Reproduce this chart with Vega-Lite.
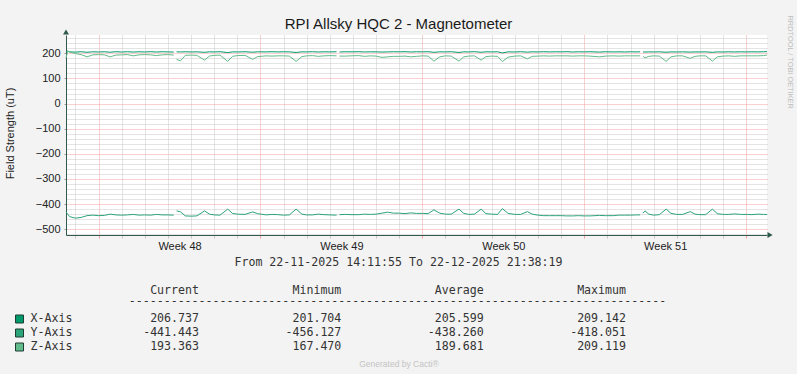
{
  "$schema": "https://vega.github.io/schema/vega-lite/v6.json",
  "width": 701,
  "height": 200,
  "autosize": {"type": "none"},
  "padding": {"left": 66, "top": 35, "right": 30, "bottom": 139},
  "background": "#f3f3f3",
  "config": {
    "view": {"fill": "#ffffff", "stroke": null},
    "font": "Liberation Sans",
    "axis": {"titleFontWeight": "normal"}
  },
  "datasets": {
    "series": [
      {"t":"2025-11-22T14:11:55Z","X-Axis":205.2,"Y-Axis":-431,"Z-Axis":181},
      {"t":"2025-11-22T16:00:00Z","X-Axis":209.1,"Y-Axis":-440,"Z-Axis":209.1},
      {"t":"2025-11-22T18:00:00Z","X-Axis":205.6,"Y-Axis":-450,"Z-Axis":205},
      {"t":"2025-11-23T00:00:00Z","X-Axis":205.0,"Y-Axis":-456,"Z-Axis":199},
      {"t":"2025-11-23T06:00:00Z","X-Axis":206.3,"Y-Axis":-453,"Z-Axis":195},
      {"t":"2025-11-23T12:00:00Z","X-Axis":204.2,"Y-Axis":-446,"Z-Axis":186},
      {"t":"2025-11-23T18:00:00Z","X-Axis":206.1,"Y-Axis":-444,"Z-Axis":194},
      {"t":"2025-11-24T00:00:00Z","X-Axis":205.3,"Y-Axis":-446,"Z-Axis":195},
      {"t":"2025-11-24T06:00:00Z","X-Axis":206.2,"Y-Axis":-445,"Z-Axis":194},
      {"t":"2025-11-24T12:00:00Z","X-Axis":204.5,"Y-Axis":-440,"Z-Axis":186},
      {"t":"2025-11-24T18:00:00Z","X-Axis":206.4,"Y-Axis":-443,"Z-Axis":193},
      {"t":"2025-11-25T00:00:00Z","X-Axis":205.1,"Y-Axis":-444,"Z-Axis":194},
      {"t":"2025-11-25T06:00:00Z","X-Axis":206.5,"Y-Axis":-443,"Z-Axis":195},
      {"t":"2025-11-25T12:00:00Z","X-Axis":205.0,"Y-Axis":-441,"Z-Axis":190},
      {"t":"2025-11-25T18:00:00Z","X-Axis":206.2,"Y-Axis":-444,"Z-Axis":194},
      {"t":"2025-11-26T00:00:00Z","X-Axis":205.4,"Y-Axis":-443,"Z-Axis":195},
      {"t":"2025-11-26T06:00:00Z","X-Axis":206.6,"Y-Axis":-444,"Z-Axis":194},
      {"t":"2025-11-26T12:00:00Z","X-Axis":205.2,"Y-Axis":-441,"Z-Axis":191},
      {"t":"2025-11-26T18:00:00Z","X-Axis":206.3,"Y-Axis":-443,"Z-Axis":194},
      {"t":"2025-11-27T00:00:00Z","X-Axis":205.6,"Y-Axis":-443,"Z-Axis":195},
      {"t":"2025-11-27T06:00:00Z","X-Axis":205.1,"Y-Axis":-444,"Z-Axis":193},
      {"t":"2025-11-27T07:30:00Z","X-Axis":null,"Y-Axis":null,"Z-Axis":null},
      {"t":"2025-11-27T09:00:00Z","X-Axis":206.0,"Y-Axis":-427,"Z-Axis":176},
      {"t":"2025-11-27T13:00:00Z","X-Axis":205.5,"Y-Axis":-431,"Z-Axis":170},
      {"t":"2025-11-27T18:00:00Z","X-Axis":206.2,"Y-Axis":-447,"Z-Axis":192},
      {"t":"2025-11-28T00:00:00Z","X-Axis":205.4,"Y-Axis":-448,"Z-Axis":193},
      {"t":"2025-11-28T06:00:00Z","X-Axis":206.0,"Y-Axis":-447,"Z-Axis":192},
      {"t":"2025-11-28T14:00:00Z","X-Axis":204.0,"Y-Axis":-427,"Z-Axis":173},
      {"t":"2025-11-28T19:00:00Z","X-Axis":206.1,"Y-Axis":-440,"Z-Axis":189},
      {"t":"2025-11-29T00:00:00Z","X-Axis":205.5,"Y-Axis":-443,"Z-Axis":192},
      {"t":"2025-11-29T06:00:00Z","X-Axis":206.4,"Y-Axis":-444,"Z-Axis":193},
      {"t":"2025-11-29T14:00:00Z","X-Axis":203.0,"Y-Axis":-420,"Z-Axis":168},
      {"t":"2025-11-29T19:00:00Z","X-Axis":205.8,"Y-Axis":-437,"Z-Axis":188},
      {"t":"2025-11-30T00:00:00Z","X-Axis":205.5,"Y-Axis":-440,"Z-Axis":191},
      {"t":"2025-11-30T08:00:00Z","X-Axis":206.3,"Y-Axis":-441,"Z-Axis":192},
      {"t":"2025-11-30T16:00:00Z","X-Axis":204.5,"Y-Axis":-431,"Z-Axis":176},
      {"t":"2025-11-30T21:00:00Z","X-Axis":206.0,"Y-Axis":-438,"Z-Axis":187},
      {"t":"2025-12-01T06:00:00Z","X-Axis":205.7,"Y-Axis":-443,"Z-Axis":190},
      {"t":"2025-12-01T12:00:00Z","X-Axis":206.4,"Y-Axis":-441,"Z-Axis":189},
      {"t":"2025-12-01T18:00:00Z","X-Axis":205.6,"Y-Axis":-442,"Z-Axis":190},
      {"t":"2025-12-02T00:00:00Z","X-Axis":206.2,"Y-Axis":-444,"Z-Axis":190},
      {"t":"2025-12-02T06:00:00Z","X-Axis":205.8,"Y-Axis":-443,"Z-Axis":189},
      {"t":"2025-12-02T13:00:00Z","X-Axis":203.5,"Y-Axis":-420,"Z-Axis":168},
      {"t":"2025-12-02T19:00:00Z","X-Axis":206.0,"Y-Axis":-440,"Z-Axis":187},
      {"t":"2025-12-03T00:00:00Z","X-Axis":205.6,"Y-Axis":-443,"Z-Axis":190},
      {"t":"2025-12-03T06:00:00Z","X-Axis":206.5,"Y-Axis":-443,"Z-Axis":191},
      {"t":"2025-12-03T12:00:00Z","X-Axis":205.3,"Y-Axis":-440,"Z-Axis":188},
      {"t":"2025-12-03T18:00:00Z","X-Axis":206.1,"Y-Axis":-442,"Z-Axis":190},
      {"t":"2025-12-04T00:00:00Z","X-Axis":205.7,"Y-Axis":-443,"Z-Axis":191},
      {"t":"2025-12-04T07:00:00Z","X-Axis":206.3,"Y-Axis":-444,"Z-Axis":190},
      {"t":"2025-12-04T08:30:00Z","X-Axis":null,"Y-Axis":null,"Z-Axis":null},
      {"t":"2025-12-04T10:00:00Z","X-Axis":205.4,"Y-Axis":-442,"Z-Axis":189},
      {"t":"2025-12-04T16:00:00Z","X-Axis":206.2,"Y-Axis":-441,"Z-Axis":189},
      {"t":"2025-12-04T22:00:00Z","X-Axis":205.9,"Y-Axis":-442,"Z-Axis":190},
      {"t":"2025-12-05T06:00:00Z","X-Axis":206.4,"Y-Axis":-442,"Z-Axis":191},
      {"t":"2025-12-05T12:00:00Z","X-Axis":205.5,"Y-Axis":-440,"Z-Axis":188},
      {"t":"2025-12-05T18:00:00Z","X-Axis":206.0,"Y-Axis":-441,"Z-Axis":190},
      {"t":"2025-12-06T00:00:00Z","X-Axis":205.8,"Y-Axis":-440,"Z-Axis":189},
      {"t":"2025-12-06T06:00:00Z","X-Axis":205.2,"Y-Axis":-436,"Z-Axis":184},
      {"t":"2025-12-06T12:00:00Z","X-Axis":205.6,"Y-Axis":-432,"Z-Axis":186},
      {"t":"2025-12-06T18:00:00Z","X-Axis":206.3,"Y-Axis":-436,"Z-Axis":188},
      {"t":"2025-12-07T00:00:00Z","X-Axis":205.9,"Y-Axis":-436,"Z-Axis":188},
      {"t":"2025-12-07T06:00:00Z","X-Axis":206.5,"Y-Axis":-438,"Z-Axis":189},
      {"t":"2025-12-07T12:00:00Z","X-Axis":205.4,"Y-Axis":-435,"Z-Axis":186},
      {"t":"2025-12-07T18:00:00Z","X-Axis":206.2,"Y-Axis":-437,"Z-Axis":188},
      {"t":"2025-12-08T00:00:00Z","X-Axis":205.8,"Y-Axis":-437,"Z-Axis":190},
      {"t":"2025-12-08T06:00:00Z","X-Axis":206.4,"Y-Axis":-438,"Z-Axis":189},
      {"t":"2025-12-08T12:00:00Z","X-Axis":204.0,"Y-Axis":-423,"Z-Axis":169},
      {"t":"2025-12-08T18:00:00Z","X-Axis":206.0,"Y-Axis":-436,"Z-Axis":186},
      {"t":"2025-12-09T00:00:00Z","X-Axis":205.7,"Y-Axis":-440,"Z-Axis":190},
      {"t":"2025-12-09T06:00:00Z","X-Axis":206.3,"Y-Axis":-440,"Z-Axis":189},
      {"t":"2025-12-09T14:00:00Z","X-Axis":203.5,"Y-Axis":-420,"Z-Axis":169},
      {"t":"2025-12-09T19:00:00Z","X-Axis":205.9,"Y-Axis":-437,"Z-Axis":186},
      {"t":"2025-12-10T00:00:00Z","X-Axis":205.5,"Y-Axis":-441,"Z-Axis":189},
      {"t":"2025-12-10T06:00:00Z","X-Axis":206.6,"Y-Axis":-440,"Z-Axis":190},
      {"t":"2025-12-10T13:00:00Z","X-Axis":204.2,"Y-Axis":-420,"Z-Axis":173},
      {"t":"2025-12-10T18:00:00Z","X-Axis":206.1,"Y-Axis":-438,"Z-Axis":187},
      {"t":"2025-12-11T00:00:00Z","X-Axis":205.6,"Y-Axis":-440,"Z-Axis":189},
      {"t":"2025-12-11T06:00:00Z","X-Axis":206.2,"Y-Axis":-441,"Z-Axis":188},
      {"t":"2025-12-11T11:00:00Z","X-Axis":201.7,"Y-Axis":-418,"Z-Axis":167.5},
      {"t":"2025-12-11T17:00:00Z","X-Axis":205.9,"Y-Axis":-437,"Z-Axis":185},
      {"t":"2025-12-12T00:00:00Z","X-Axis":205.4,"Y-Axis":-441,"Z-Axis":189},
      {"t":"2025-12-12T06:00:00Z","X-Axis":206.3,"Y-Axis":-441,"Z-Axis":190},
      {"t":"2025-12-12T13:00:00Z","X-Axis":204.8,"Y-Axis":-430,"Z-Axis":178},
      {"t":"2025-12-12T18:00:00Z","X-Axis":206.0,"Y-Axis":-440,"Z-Axis":188},
      {"t":"2025-12-13T00:00:00Z","X-Axis":205.5,"Y-Axis":-444,"Z-Axis":189},
      {"t":"2025-12-13T06:00:00Z","X-Axis":206.4,"Y-Axis":-446,"Z-Axis":190},
      {"t":"2025-12-13T12:00:00Z","X-Axis":205.6,"Y-Axis":-446,"Z-Axis":189},
      {"t":"2025-12-13T18:00:00Z","X-Axis":206.2,"Y-Axis":-446,"Z-Axis":190},
      {"t":"2025-12-14T00:00:00Z","X-Axis":205.8,"Y-Axis":-446,"Z-Axis":190},
      {"t":"2025-12-14T06:00:00Z","X-Axis":206.5,"Y-Axis":-447,"Z-Axis":190},
      {"t":"2025-12-14T12:00:00Z","X-Axis":205.3,"Y-Axis":-447,"Z-Axis":189},
      {"t":"2025-12-14T18:00:00Z","X-Axis":206.1,"Y-Axis":-446,"Z-Axis":190},
      {"t":"2025-12-15T00:00:00Z","X-Axis":205.7,"Y-Axis":-447,"Z-Axis":190},
      {"t":"2025-12-15T06:00:00Z","X-Axis":206.3,"Y-Axis":-447,"Z-Axis":189},
      {"t":"2025-12-15T16:00:00Z","X-Axis":205.0,"Y-Axis":-445,"Z-Axis":186},
      {"t":"2025-12-15T22:00:00Z","X-Axis":206.2,"Y-Axis":-446,"Z-Axis":189},
      {"t":"2025-12-16T06:00:00Z","X-Axis":205.6,"Y-Axis":-446,"Z-Axis":190},
      {"t":"2025-12-16T12:00:00Z","X-Axis":206.0,"Y-Axis":-444,"Z-Axis":189},
      {"t":"2025-12-16T18:00:00Z","X-Axis":205.4,"Y-Axis":-444,"Z-Axis":190},
      {"t":"2025-12-17T00:00:00Z","X-Axis":206.2,"Y-Axis":-444,"Z-Axis":190},
      {"t":"2025-12-17T06:00:00Z","X-Axis":205.7,"Y-Axis":-443,"Z-Axis":190},
      {"t":"2025-12-17T10:00:00Z","X-Axis":206.1,"Y-Axis":-443,"Z-Axis":190},
      {"t":"2025-12-17T11:30:00Z","X-Axis":null,"Y-Axis":null,"Z-Axis":null},
      {"t":"2025-12-17T13:00:00Z","X-Axis":205.6,"Y-Axis":-436,"Z-Axis":188},
      {"t":"2025-12-17T15:00:00Z","X-Axis":205.2,"Y-Axis":-427,"Z-Axis":182},
      {"t":"2025-12-17T19:00:00Z","X-Axis":205.8,"Y-Axis":-440,"Z-Axis":188},
      {"t":"2025-12-18T00:00:00Z","X-Axis":205.5,"Y-Axis":-444,"Z-Axis":190},
      {"t":"2025-12-18T06:00:00Z","X-Axis":205.9,"Y-Axis":-442,"Z-Axis":189},
      {"t":"2025-12-18T13:00:00Z","X-Axis":204.3,"Y-Axis":-420,"Z-Axis":168},
      {"t":"2025-12-18T18:00:00Z","X-Axis":205.7,"Y-Axis":-437,"Z-Axis":186},
      {"t":"2025-12-19T00:00:00Z","X-Axis":205.4,"Y-Axis":-441,"Z-Axis":190},
      {"t":"2025-12-19T06:00:00Z","X-Axis":205.8,"Y-Axis":-441,"Z-Axis":190},
      {"t":"2025-12-19T14:00:00Z","X-Axis":205.0,"Y-Axis":-430,"Z-Axis":180},
      {"t":"2025-12-19T19:00:00Z","X-Axis":205.6,"Y-Axis":-440,"Z-Axis":188},
      {"t":"2025-12-20T00:00:00Z","X-Axis":205.5,"Y-Axis":-442,"Z-Axis":190},
      {"t":"2025-12-20T06:00:00Z","X-Axis":205.9,"Y-Axis":-442,"Z-Axis":190},
      {"t":"2025-12-20T13:00:00Z","X-Axis":204.0,"Y-Axis":-420,"Z-Axis":169},
      {"t":"2025-12-20T18:00:00Z","X-Axis":205.7,"Y-Axis":-438,"Z-Axis":186},
      {"t":"2025-12-21T00:00:00Z","X-Axis":205.4,"Y-Axis":-441,"Z-Axis":189},
      {"t":"2025-12-21T06:00:00Z","X-Axis":205.9,"Y-Axis":-441,"Z-Axis":190},
      {"t":"2025-12-21T12:00:00Z","X-Axis":205.5,"Y-Axis":-439,"Z-Axis":188},
      {"t":"2025-12-21T18:00:00Z","X-Axis":206.0,"Y-Axis":-441,"Z-Axis":190},
      {"t":"2025-12-22T00:00:00Z","X-Axis":205.6,"Y-Axis":-441,"Z-Axis":190},
      {"t":"2025-12-22T06:00:00Z","X-Axis":206.1,"Y-Axis":-442,"Z-Axis":190},
      {"t":"2025-12-22T12:00:00Z","X-Axis":205.7,"Y-Axis":-440,"Z-Axis":190},
      {"t":"2025-12-22T18:00:00Z","X-Axis":206.3,"Y-Axis":-441,"Z-Axis":191},
      {"t":"2025-12-22T21:38:19Z","X-Axis":206.737,"Y-Axis":-441.443,"Z-Axis":193.363}
    ],
    "stats": [
      {"row":"header","col":"Current","text":"Current"},
      {"row":"header","col":"Minimum","text":"Minimum"},
      {"row":"header","col":"Average","text":"Average"},
      {"row":"header","col":"Maximum","text":"Maximum"},
      {"row":"X-Axis","col":"Current","text":"206.737"},
      {"row":"X-Axis","col":"Minimum","text":"201.704"},
      {"row":"X-Axis","col":"Average","text":"205.599"},
      {"row":"X-Axis","col":"Maximum","text":"209.142"},
      {"row":"Y-Axis","col":"Current","text":"-441.443"},
      {"row":"Y-Axis","col":"Minimum","text":"-456.127"},
      {"row":"Y-Axis","col":"Average","text":"-438.260"},
      {"row":"Y-Axis","col":"Maximum","text":"-418.051"},
      {"row":"Z-Axis","col":"Current","text":"193.363"},
      {"row":"Z-Axis","col":"Minimum","text":"167.470"},
      {"row":"Z-Axis","col":"Average","text":"189.681"},
      {"row":"Z-Axis","col":"Maximum","text":"209.119"}
    ],
    "legend": [
      {"row":"X-Axis"},
      {"row":"Y-Axis"},
      {"row":"Z-Axis"}
    ]
  },
  "layer": [
    {
      "data": {"name": "series"},
      "transform": [{"fold": ["X-Axis", "Y-Axis", "Z-Axis"], "as": ["series", "v"]}],
      "layer": [
        {
          "mark": {"type": "line", "strokeOpacity": 0},
          "encoding": {
            "x": {"field": "t", "type": "temporal",
              "scale": {"type": "utc", "domain": [{"year":2025,"month":11,"date":22,"hours":14,"minutes":11,"seconds":55,"utc":true},{"year":2025,"month":12,"date":22,"hours":21,"minutes":38,"seconds":19,"utc":true}]},
              "axis": {"orient": "bottom",
                "values": [{"year":2025,"month":11,"date":23,"utc":true},{"year":2025,"month":11,"date":25,"utc":true},{"year":2025,"month":11,"date":26,"utc":true},{"year":2025,"month":11,"date":27,"utc":true},{"year":2025,"month":11,"date":28,"utc":true},{"year":2025,"month":11,"date":29,"utc":true},{"year":2025,"month":11,"date":30,"utc":true},{"year":2025,"month":12,"date":2,"utc":true},{"year":2025,"month":12,"date":3,"utc":true},{"year":2025,"month":12,"date":4,"utc":true},{"year":2025,"month":12,"date":5,"utc":true},{"year":2025,"month":12,"date":6,"utc":true},{"year":2025,"month":12,"date":7,"utc":true},{"year":2025,"month":12,"date":9,"utc":true},{"year":2025,"month":12,"date":10,"utc":true},{"year":2025,"month":12,"date":11,"utc":true},{"year":2025,"month":12,"date":12,"utc":true},{"year":2025,"month":12,"date":13,"utc":true},{"year":2025,"month":12,"date":14,"utc":true},{"year":2025,"month":12,"date":16,"utc":true},{"year":2025,"month":12,"date":17,"utc":true},{"year":2025,"month":12,"date":18,"utc":true},{"year":2025,"month":12,"date":19,"utc":true},{"year":2025,"month":12,"date":20,"utc":true},{"year":2025,"month":12,"date":21,"utc":true}],
                "grid": true, "gridColor": "#c8c8c8", "gridDash": [1, 1], "gridWidth": 1,
                "labels": false, "domain": false, "ticks": true, "tickSize": 3, "tickColor": "#c8c8c8",
                "title": "Generated by Cacti®", "titleX": 332.5, "titleY": 128, "titleAlign": "center", "titleBaseline": "middle",
                "titleFont": "Liberation Sans", "titleFontSize": 8.5, "titleFontWeight": "normal", "titleColor": "#c4c4c4"}},
            "y": {"field": "v", "type": "quantitative",
              "scale": {"domain": [-523, 273], "nice": false, "zero": false},
              "axis": {"orient": "right",
                "values": [-520,-480,-460,-440,-420,-380,-360,-340,-320,-280,-260,-240,-220,-180,-160,-140,-120,-80,-60,-40,-20,20,40,60,80,120,140,160,180,220,240,260],
                "grid": true, "gridColor": "#c8c8c8", "gridDash": [1, 1], "gridWidth": 1,
                "labels": false, "domain": false, "ticks": false, "tickSize": 0,
                "title": "RRDTOOL / TOBI OETIKER", "titleX": 22, "titleY": -20, "titleAngle": 90, "titleAlign": "left", "titleBaseline": "middle",
                "titleLimit": 400,
                "titleFont": "Liberation Sans", "titleFontSize": 7.4, "titleFontWeight": "normal", "titleColor": "#bdbdbd"}}
          }
        },
        {
          "mark": {"type": "line", "strokeOpacity": 0},
          "encoding": {
            "x": {"field": "t", "type": "temporal",
              "scale": {"type": "utc", "domain": [{"year":2025,"month":11,"date":22,"hours":14,"minutes":11,"seconds":55,"utc":true},{"year":2025,"month":12,"date":22,"hours":21,"minutes":38,"seconds":19,"utc":true}]},
              "axis": {"orient": "bottom",
                "values": [{"year":2025,"month":11,"date":24,"utc":true},{"year":2025,"month":12,"date":1,"utc":true},{"year":2025,"month":12,"date":8,"utc":true},{"year":2025,"month":12,"date":15,"utc":true},{"year":2025,"month":12,"date":22,"utc":true}],
                "grid": true, "gridColor": "#f0a0a0", "gridDash": [1, 1], "gridWidth": 1,
                "labels": false, "domain": false, "ticks": true, "tickSize": 3, "tickColor": "#f0a0a0",
                "title": "-----------------------------------------------------------------------------",
                "titleX": 331, "titleY": 66, "titleAlign": "center", "titleBaseline": "middle",
                "titleFont": "DejaVu Sans Mono", "titleFontSize": 11.6, "titleFontWeight": "normal", "titleColor": "#333333"}},
            "y": {"field": "v", "type": "quantitative",
              "scale": {"domain": [-523, 273], "nice": false, "zero": false},
              "axis": {"orient": "left",
                "values": [-500,-400,-300,-200,-100,0,100,200],
                "grid": true, "gridColor": "#f0a0a0", "gridDash": [1, 1], "gridWidth": 1,
                "labels": true, "labelFont": "Liberation Sans", "labelFontSize": 11, "labelColor": "#222222", "labelPadding": 4,
                "ticks": true, "tickSize": 2, "tickColor": "#999999",
                "domain": true, "domainColor": "#35594d", "domainWidth": 1,
                "title": "Field Strength (uT)", "titleX": -56, "titleY": 98, "titleAngle": 270, "titleAlign": "center", "titleBaseline": "middle",
                "titleFont": "Liberation Sans", "titleFontSize": 11, "titleFontWeight": "normal", "titleColor": "#222222"}}
          }
        },
        {
          "mark": {"type": "line", "strokeOpacity": 0},
          "encoding": {
            "x": {"field": "t", "type": "temporal",
              "scale": {"type": "utc", "domain": [{"year":2025,"month":11,"date":22,"hours":14,"minutes":11,"seconds":55,"utc":true},{"year":2025,"month":12,"date":22,"hours":21,"minutes":38,"seconds":19,"utc":true}]},
              "axis": {"orient": "bottom",
                "values": [{"year":2025,"month":11,"date":27,"hours":12,"utc":true},{"year":2025,"month":12,"date":4,"hours":12,"utc":true},{"year":2025,"month":12,"date":11,"hours":12,"utc":true},{"year":2025,"month":12,"date":18,"hours":12,"utc":true}],
                "labelExpr": "'Week ' + utcFormat(datum.value, '%V')",
                "grid": false, "labels": true, "labelFont": "Liberation Sans", "labelFontSize": 11, "labelColor": "#222222", "labelPadding": 5,
                "ticks": false, "tickSize": 0,
                "domain": true, "domainColor": "#35594d", "domainWidth": 1,
                "title": "From 22-11-2025 14:11:55 To 22-12-2025 21:38:19",
                "titleX": 332, "titleY": 27, "titleAlign": "center", "titleBaseline": "middle",
                "titleFont": "DejaVu Sans Mono", "titleFontSize": 11.6, "titleFontWeight": "normal", "titleColor": "#333333"}},
            "y": {"field": "v", "type": "quantitative",
              "scale": {"domain": [-523, 273], "nice": false, "zero": false}, "axis": null}
          }
        },
        {
          "mark": {"type": "line", "strokeOpacity": 0},
          "encoding": {
            "x": {"field": "t", "type": "temporal",
              "scale": {"type": "utc", "domain": [{"year":2025,"month":11,"date":22,"hours":14,"minutes":11,"seconds":55,"utc":true},{"year":2025,"month":12,"date":22,"hours":21,"minutes":38,"seconds":19,"utc":true}]},
              "axis": {"orient": "top", "grid": false, "labels": false, "ticks": false, "tickSize": 0, "domain": false,
                "title": "RPI Allsky HQC 2 - Magnetometer",
                "titleX": 332, "titleY": -7, "titleAlign": "center", "titleBaseline": "alphabetic",
                "titleFont": "Liberation Sans", "titleFontSize": 15, "titleFontWeight": "normal", "titleColor": "#1a1a1a"}},
            "y": {"field": "v", "type": "quantitative",
              "scale": {"domain": [-523, 273], "nice": false, "zero": false}, "axis": null}
          }
        },
        {
          "mark": {"type": "line", "strokeWidth": 1, "invalid": "break-paths-show-domains"},
          "encoding": {
            "x": {"field": "t", "type": "temporal",
              "scale": {"type": "utc", "domain": [{"year":2025,"month":11,"date":22,"hours":14,"minutes":11,"seconds":55,"utc":true},{"year":2025,"month":12,"date":22,"hours":21,"minutes":38,"seconds":19,"utc":true}]},
              "axis": null},
            "y": {"field": "v", "type": "quantitative",
              "scale": {"domain": [-523, 273], "nice": false, "zero": false}, "axis": null},
            "color": {"field": "series", "type": "nominal",
              "scale": {"domain": ["X-Axis", "Y-Axis", "Z-Axis"], "range": ["#00996b", "#2ca47a", "#62bb8a"]},
              "legend": null}
          }
        },
        {
          "data": {"values": [{}]},
          "mark": {"type": "point", "shape": "triangle-up", "filled": true, "size": 35, "color": "#2f5a4c", "opacity": 1},
          "encoding": {
            "x": {"datum": {"year":2025,"month":11,"date":22,"hours":14,"minutes":11,"seconds":55,"utc":true}, "type": "temporal",
              "scale": {"type": "utc", "domain": [{"year":2025,"month":11,"date":22,"hours":14,"minutes":11,"seconds":55,"utc":true},{"year":2025,"month":12,"date":22,"hours":21,"minutes":38,"seconds":19,"utc":true}]},
              "axis": null},
            "y": {"datum": 285, "type": "quantitative",
              "scale": {"domain": [-523, 273], "nice": false, "zero": false}, "axis": null}
          }
        },
        {
          "data": {"values": [{}]},
          "mark": {"type": "point", "shape": "triangle-right", "filled": true, "size": 35, "color": "#2f5a4c", "opacity": 1},
          "encoding": {
            "x": {"datum": {"year":2025,"month":12,"date":23,"hours":0,"minutes":50,"utc":true}, "type": "temporal",
              "scale": {"type": "utc", "domain": [{"year":2025,"month":11,"date":22,"hours":14,"minutes":11,"seconds":55,"utc":true},{"year":2025,"month":12,"date":22,"hours":21,"minutes":38,"seconds":19,"utc":true}]},
              "axis": null},
            "y": {"datum": -523, "type": "quantitative",
              "scale": {"domain": [-523, 273], "nice": false, "zero": false}, "axis": null}
          }
        }
      ],
      "resolve": {"axis": {"x": "independent", "y": "independent"}}
    },
    {
      "layer": [
        {
          "data": {"name": "stats"},
          "mark": {"type": "text", "font": "DejaVu Sans Mono", "fontSize": 11.6, "align": "right", "baseline": "middle", "color": "#333333"},
          "encoding": {
            "x": {"field": "col", "type": "nominal",
              "scale": {"type": "point", "domain": ["Current", "Minimum", "Average", "Maximum"], "range": [133, 560], "padding": 0}, "axis": null},
            "y": {"field": "row", "type": "nominal",
              "scale": {"type": "point", "domain": ["header", "dashes", "X-Axis", "Y-Axis", "Z-Axis"], "range": [256, 312], "padding": 0}, "axis": null},
            "text": {"field": "text"}
          }
        },
        {
          "data": {"name": "legend"},
          "mark": {"type": "square", "size": 64, "filled": true, "stroke": "#1f3d33", "strokeWidth": 1, "opacity": 1},
          "encoding": {
            "x": {"datum": "swatch", "type": "nominal",
              "scale": {"type": "point", "domain": ["swatch", "name"], "range": [-46.5, -35.5], "padding": 0}, "axis": null},
            "y": {"field": "row", "type": "nominal",
              "scale": {"type": "point", "domain": ["header", "dashes", "X-Axis", "Y-Axis", "Z-Axis"], "range": [256, 312], "padding": 0}, "axis": null},
            "fill": {"field": "row", "type": "nominal",
              "scale": {"domain": ["X-Axis", "Y-Axis", "Z-Axis"], "range": ["#00996b", "#2ca47a", "#62bb8a"]}, "legend": null}
          }
        },
        {
          "data": {"name": "legend"},
          "mark": {"type": "text", "font": "DejaVu Sans Mono", "fontSize": 11.6, "align": "left", "baseline": "middle", "color": "#333333"},
          "encoding": {
            "x": {"datum": "name", "type": "nominal",
              "scale": {"type": "point", "domain": ["swatch", "name"], "range": [-46.5, -35.5], "padding": 0}, "axis": null},
            "y": {"field": "row", "type": "nominal",
              "scale": {"type": "point", "domain": ["header", "dashes", "X-Axis", "Y-Axis", "Z-Axis"], "range": [256, 312], "padding": 0}, "axis": null},
            "text": {"field": "row"}
          }
        }
      ],
      "resolve": {"scale": {"x": "independent"}}
    }
  ],
  "resolve": {"scale": {"x": "independent", "y": "independent"}}
}
